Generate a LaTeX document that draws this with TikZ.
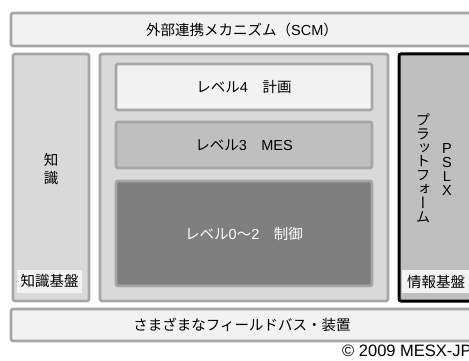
\documentclass[tikz,border=0pt]{standalone}
\usepackage{fontspec}
\setmainfont{Noto Sans CJK JP}
\newfontfamily\vfont[RawFeature=+vert]{Noto Sans CJK JP}
\newfontfamily\latinfont{Liberation Sans}
\definecolor{bordergray}{HTML}{A6A6A6}
\definecolor{lightfill}{HTML}{F2F2F2}
\definecolor{midfill}{HTML}{D9D9D9}
\definecolor{darkfill}{HTML}{BFBFBF}
\definecolor{deepfill}{HTML}{7F7F7F}
\begin{document}
\begin{tikzpicture}[x=1pt,y=-1pt,
  box/.style={draw=bordergray, line width=2.6pt, rounded corners=2pt, inner sep=0pt,
    font=\fontsize{14.5}{17}\selectfont},
  txt/.style={inner sep=0pt, align=center, font=\fontsize{14.5}{17}\selectfont},
  tag/.style={fill=lightfill, inner sep=0pt, minimum height=23pt,
    font=\fontsize{14.5}{17}\selectfont}]
\clip (0,0) rectangle (469,361);
\useasboundingbox (0,0) rectangle (469,361);
% top and bottom bars
\node[box, fill=lightfill, minimum width=462pt, minimum height=33pt] (scm) at (242,29.5) {外部連携メカニズム（{\latinfont SCM}）};
\node[box, fill=lightfill, minimum width=462pt, minimum height=32pt] (field) at (242,325) {さまざまなフィールドバス・装置};
% left panel
\node[box, fill=midfill, minimum width=76pt, minimum height=247pt] (know) at (51,177.5) {};
\node[txt, font=\fontsize{14.5}{17.5}\selectfont] (knowtxt) at (51,169) {知\\識};
\node[tag, minimum width=65pt] (knowtag) at (49.5,281.5) {知識基盤};
% center panel
\node[box, fill=midfill, minimum width=288pt, minimum height=247pt] (center) at (244,177.5) {};
\node[box, fill=lightfill, minimum width=256pt, minimum height=46pt] (l4) at (244,87) {レベル{\latinfont 4}　計画};
\node[box, fill=darkfill, minimum width=256pt, minimum height=46pt] (l3) at (244,145) {レベル{\latinfont 3}　{\latinfont MES}};
\node[box, fill=deepfill, text=white, minimum width=256pt, minimum height=105pt] (l0) at (244,233.5) {レベル{\latinfont 0}〜{\latinfont 2}　制御};
% right panel
\node[box, draw=black, line width=3pt, fill=darkfill, minimum width=74pt, minimum height=247pt] (pslx) at (436,177.5) {};
\node[txt, font=\vfont\fontsize{14.5}{13.8}\selectfont] (platform) at (423,168) {プ\\ラ\\ッ\\ト\\フ\\ォ\\ー\\ム};
\node[txt, font=\latinfont\fontsize{14.5}{14}\selectfont] (pslxtxt) at (447,170) {P\\S\\L\\X};
\node[tag, minimum width=68pt] (infotag) at (436,281.5) {情報基盤};
% copyright
\node[inner sep=0pt, anchor=west, font=\latinfont\fontsize{16.5}{18}\selectfont] (copy) at (342,351) {© 2009 MESX-JP};
\end{tikzpicture}
\end{document}
